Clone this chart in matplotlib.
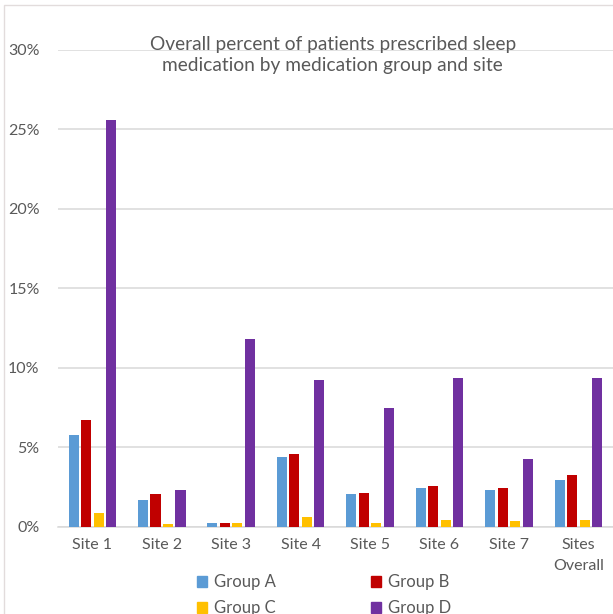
import numpy as np
import matplotlib
matplotlib.use("Agg")
import matplotlib.pyplot as plt
from matplotlib.patches import Rectangle, Patch

plt.rcParams["font.family"] = ["Lato", "DejaVu Sans"]

# Percent of patients prescribed sleep medication, by site and group
sites = ["Site 1", "Site 2", "Site 3", "Site 4", "Site 5", "Site 6", "Site 7",
         "Sites\nOverall"]
group_a = [5.8, 1.7, 0.25, 4.4, 2.1, 2.45, 2.3, 2.95]
group_b = [6.7, 2.1, 0.25, 4.6, 2.15, 2.6, 2.45, 3.25]
group_c = [0.9, 0.2, 0.25, 0.6, 0.25, 0.45, 0.35, 0.45]
group_d = [25.6, 2.3, 11.8, 9.25, 7.5, 9.4, 4.3, 9.4]

series = [("Group A", group_a, "#5B9BD5"),
          ("Group B", group_b, "#C00000"),
          ("Group C", group_c, "#FFC000"),
          ("Group D", group_d, "#7030A0")]

GREY_TEXT = "#595959"
GRID = "#d9d9d9"

fig = plt.figure(figsize=(6.13, 6.14), dpi=100)
ax = fig.add_axes([0.094, 0.1417, 0.906, 0.777])

x = np.arange(len(sites))
step = 0.18
width = 0.145
for i, (name, vals, color) in enumerate(series):
    ax.bar(x + (i - 1.5) * step, np.array(vals) / 100, width=width,
           color=color, label=name, zorder=3)

ax.set_xlim(-0.5, len(sites) - 0.5)
ax.set_ylim(0, 0.30)
ax.set_yticks(np.arange(0, 0.301, 0.05))
ax.set_yticklabels([f"{int(round(v * 100))}%" for v in np.arange(0, 0.301, 0.05)])
ax.set_xticks(x)
ax.set_xticklabels(sites, linespacing=1.6)
ax.tick_params(axis="both", length=0, labelsize=11.5, labelcolor=GREY_TEXT)
ax.tick_params(axis="y", pad=13)
ax.tick_params(axis="x", pad=8)
ax.grid(axis="y", color=GRID, linewidth=1.1, zorder=0)
for side in ["left", "right", "top"]:
    ax.spines[side].set_visible(False)
ax.spines["bottom"].set_color(GRID)
ax.spines["bottom"].set_linewidth(1.1)

fig.text(0.543, 0.911,
         "Overall percent of patients prescribed sleep\n"
         "medication by medication group and site",
         ha="center", va="center", fontsize=13.8, color=GREY_TEXT,
         linespacing=1.3)

# light chart frame
fig.patches.append(Rectangle((4 / 613, -0.1), 1.2, 1.1 - 5 / 614,
                             transform=fig.transFigure, fill=False,
                             edgecolor="#e2dcdc", linewidth=1.0))

# legend fills column-wise, so order handles to get rows A|B and C|D
lut = {n: c for n, _, c in series}
handles = [Patch(color=lut[n], label=n)
           for n in ["Group A", "Group C", "Group B", "Group D"]]
fig.legend(handles=handles, ncol=2, loc="upper left",
           bbox_to_anchor=(0.321, 0.065), frameon=False, fontsize=12,
           labelcolor=GREY_TEXT, handlelength=0.62, handleheight=0.62,
           handletextpad=0.4, columnspacing=5.7, labelspacing=0.62,
           borderpad=0, borderaxespad=0)

fig.savefig("out.png", dpi=100)
